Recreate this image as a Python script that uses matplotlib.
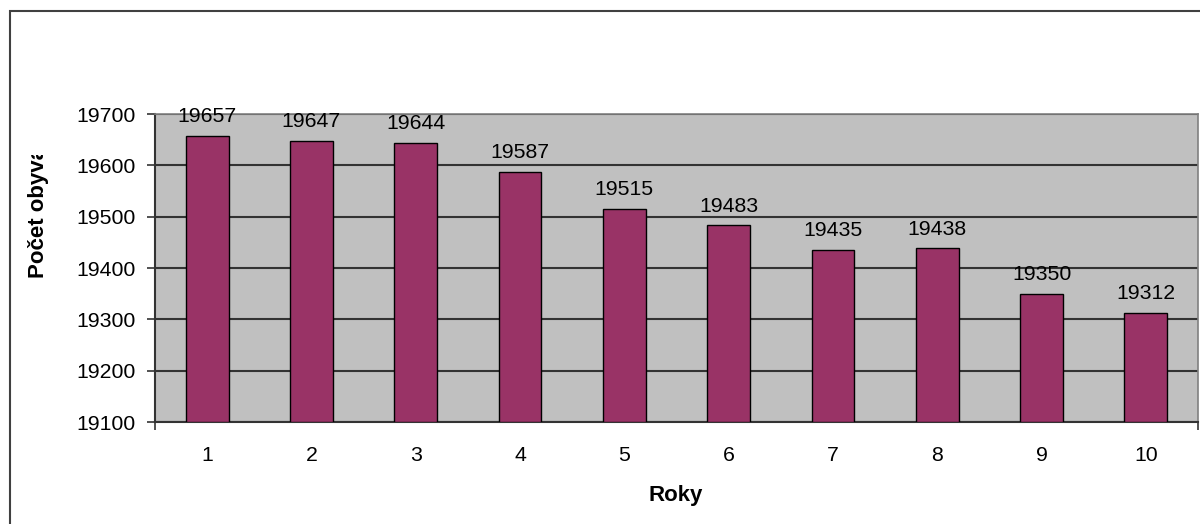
import matplotlib.pyplot as plt
from matplotlib.patches import Rectangle
import numpy as np

plt.rcParams['font.family'] = ['Liberation Sans', 'DejaVu Sans']

roky = [1, 2, 3, 4, 5, 6, 7, 8, 9, 10]
pocet = [19657, 19647, 19644, 19587, 19515, 19483, 19435, 19438, 19350, 19312]
yticks = [19100, 19200, 19300, 19400, 19500, 19600, 19700]

W, H = 1200, 524
fig = plt.figure(figsize=(12, 5.24), dpi=100)

# outer chart frame (runs off right and bottom edge)
fig.patches.append(Rectangle((9.5 / W, -0.05), 1.2, (H - 11) / H + 0.05,
                             transform=fig.transFigure, fill=False,
                             edgecolor='#404040', linewidth=1.5))

ax = fig.add_axes([155 / W, (H - 422) / H, (1198 - 155) / W, (422 - 114) / H])
ax.set_facecolor('#C0C0C0')

x = np.arange(1, len(roky) + 1)
ax.bar(x, np.array(pocet) - yticks[0], bottom=yticks[0], width=0.41,
       color='#993366', edgecolor='black', linewidth=1, zorder=3)

for xi, v in zip(x, pocet):
    ax.annotate(str(v), (xi, v), xytext=(0, 7), textcoords='offset points',
                ha='center', va='bottom', fontsize=15.3, color='black',
                annotation_clip=False)

ax.set_xlim(0.5, len(roky) + 0.5)
ax.set_ylim(yticks[0], yticks[-1])
ax.set_yticks(yticks)
ax.set_xticks(x)
ax.set_xticklabels([str(r) for r in roky])
# only the two end ticks of the category axis
ax.set_xticks([0.5, len(roky) + 0.5], minor=True)
ax.tick_params(axis='x', which='major', length=0, pad=17, labelsize=15.3)
ax.tick_params(axis='x', which='minor', length=6, width=1.2, color='#333333')
ax.tick_params(axis='y', length=6, width=1.2, color='#333333', pad=8,
               labelsize=15.3)

ax.yaxis.grid(True, color='#333333', linewidth=1.5, zorder=1)
ax.set_axisbelow(True)

for s in ['top', 'right']:
    ax.spines[s].set_color('#808080')
    ax.spines[s].set_linewidth(1.2)
for s in ['left', 'bottom']:
    ax.spines[s].set_color('#333333')
    ax.spines[s].set_linewidth(1.5)

fig.text(676 / W, 1 - 495 / H, 'Roky', ha='center', va='center',
         fontsize=16, fontweight='bold')

ylab = fig.text(39 / W, 1 - 278 / H, 'Počet obyvatel', rotation=90,
                ha='center', va='bottom', fontsize=16, fontweight='bold')
clip = Rectangle((0, 0), 1, (H - 155) / H, transform=fig.transFigure)
ylab.set_clip_path(clip)
ylab.set_clip_on(True)

fig.savefig('out.png', dpi=100)
